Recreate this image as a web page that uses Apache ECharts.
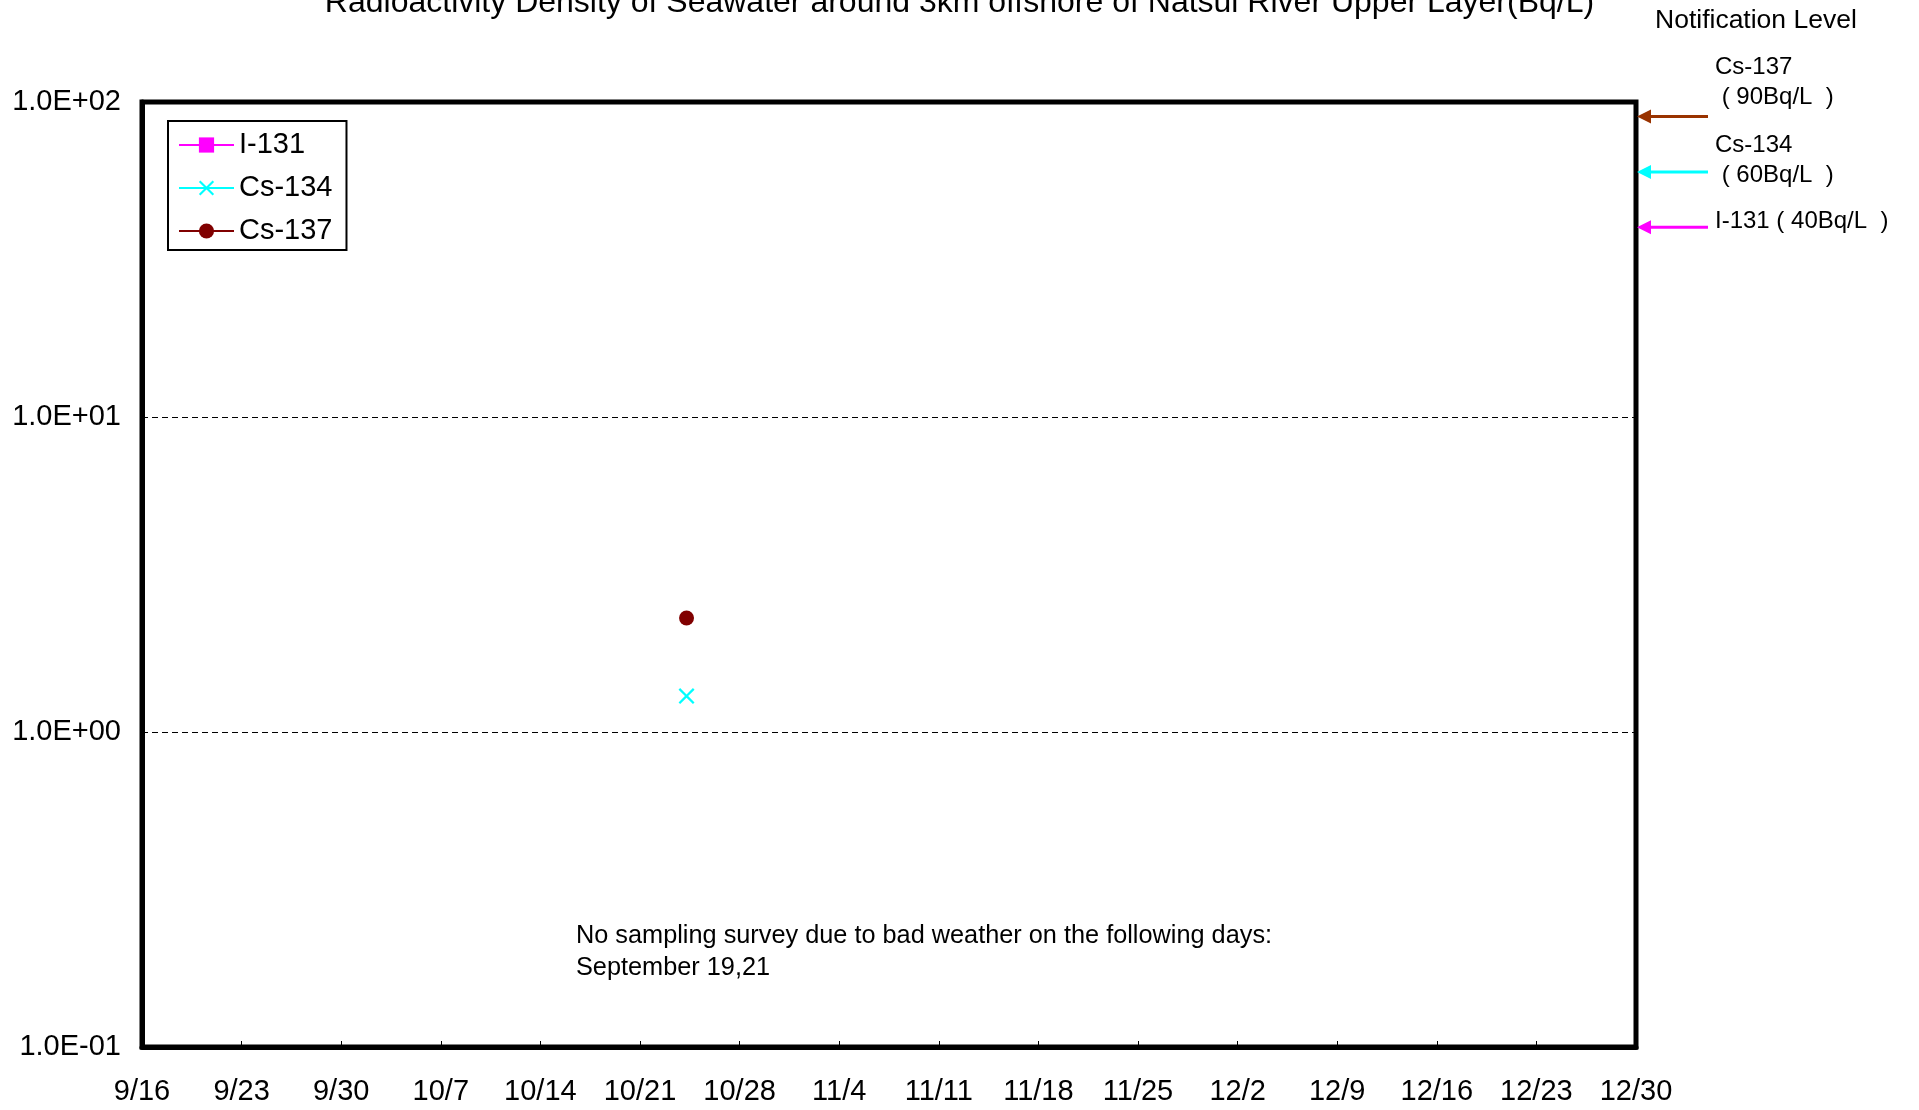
<!DOCTYPE html>
<html>
<head>
<meta charset="utf-8">
<script src="https://cdn.jsdelivr.net/npm/echarts@6/dist/echarts.min.js"></script>
<style>
  html, body { margin: 0; padding: 0; background: #fff; }
  #mychart { width: 1919px; height: 1110px; }
</style>
</head>
<body>
<div id="mychart"></div>
<script>
// sampling data (Bq/L)
const startDate = "2011-09-16T00:00:00Z";
const endDate = "2011-12-30T00:00:00Z";
const sampleDates = ["2011-10-24T06:30:00Z"];
const i131Values = [null];
const cs134Values = [1.3];
const cs137Values = [2.3];

// notification levels (Bq/L)
const levelNames = ["Cs-137", "Cs-134", "I-131"];
const levelValues = [90, 60, 40];
const levelColors = ["#993300", "#00ffff", "#ff00ff"];

const DAY = 86400000;
const FONT = "'Liberation Sans', Arial, sans-serif";

function dayOffset(d) {
  return (Date.parse(d) - Date.parse(startDate)) / DAY;
}

function toSeries(values) {
  return sampleDates.map((d, i) => [dayOffset(d), values[i] == null ? "-" : values[i]]);
}

function sciLabel(v) {
  const e = Math.round(Math.log10(v));
  const m = (v / Math.pow(10, e)).toFixed(1);
  return m + "E" + (e < 0 ? "-" : "+") + String(Math.abs(e)).padStart(2, "0");
}

const crossPath =
  "path://M0,1 L1,0 L5,4 L9,0 L10,1 L6,5 L10,9 L9,10 L5,6 L1,10 L0,9 L4,5 Z";

const getchart = echarts.init(document.getElementById("mychart"));

const option = {
  animation: false,
  textStyle: { fontFamily: FONT },
  title: {
    text: "Radioactivity Density of Seawater around 3km offshore of Natsui River Upper Layer(Bq/L)",
    left: "center",
    top: -18,
    textStyle: { fontFamily: FONT, fontSize: 32, fontWeight: "normal", color: "#000" }
  },
  legend: {
    orient: "vertical",
    left: 168,
    top: 121,
    padding: [8, 14, 3, 10],
    borderColor: "#000",
    borderWidth: 2,
    itemWidth: 55,
    itemHeight: 19,
    itemGap: 11,
    textStyle: { fontFamily: FONT, fontSize: 29, color: "#000", lineHeight: 32 },
    data: ["I-131", "Cs-134", "Cs-137"]
  },
  grid: {
    left: 142,
    top: 102,
    width: 1494,
    height: 945,
    show: true,
    borderColor: "#000",
    borderWidth: 5
  },
  xAxis: {
    type: "value",
    min: 0,
    max: dayOffset(endDate),
    interval: 7,
    axisLine: { show: true, lineStyle: { color: "#000", width: 5 } },
    axisTick: { show: true, inside: true, length: 6, lineStyle: { color: "#000", width: 1 } },
    splitLine: { show: false },
    axisLabel: {
      margin: 30,
      fontFamily: FONT,
      fontSize: 29,
      color: "#000",
      showMinLabel: true,
      showMaxLabel: true,
      formatter: function (v) {
        const d = new Date(Date.parse(startDate) + v * DAY);
        return d.getUTCMonth() + 1 + "/" + d.getUTCDate();
      }
    }
  },
  yAxis: {
    type: "log",
    logBase: 10,
    min: 0.1,
    max: 100,
    interval: 1,
    axisLine: { show: true, lineStyle: { color: "#000", width: 5 } },
    axisTick: { show: false },
    splitLine: { show: true, lineStyle: { color: "#000", width: 1, type: [6, 4] } },
    axisLabel: {
      margin: 21,
      fontFamily: FONT,
      fontSize: 29,
      color: "#000",
      formatter: sciLabel
    }
  },
  series: [
    {
      name: "I-131",
      type: "line",
      data: toSeries(i131Values),
      symbol: "rect",
      symbolSize: 14,
      itemStyle: { color: "#ff00ff" },
      lineStyle: { color: "#ff00ff", width: 2 }
    },
    {
      name: "Cs-134",
      type: "line",
      data: toSeries(cs134Values),
      symbol: crossPath,
      symbolSize: 16,
      itemStyle: { color: "#00ffff" },
      lineStyle: { color: "#00ffff", width: 2 }
    },
    {
      name: "Cs-137",
      type: "line",
      data: toSeries(cs137Values),
      symbol: "circle",
      symbolSize: 15,
      itemStyle: { color: "#800000" },
      lineStyle: { color: "#800000", width: 2 }
    }
  ]
};

getchart.setOption(option);

// notification level texts and arrows (arrows placed through the y axis scale)
const graphics = [
  {
    type: "text",
    left: 1655,
    top: 7,
    style: { text: "Notification Level", font: "26.5px " + FONT, fill: "#000" }
  },
  {
    type: "text",
    left: 1715,
    top: 52,
    style: { text: levelNames[0] + "\n ( 90Bq/L  )", font: "24px " + FONT, fill: "#000", lineHeight: 30 }
  },
  {
    type: "text",
    left: 1715,
    top: 130,
    style: { text: levelNames[1] + "\n ( 60Bq/L  )", font: "24px " + FONT, fill: "#000", lineHeight: 30 }
  },
  {
    type: "text",
    left: 1715,
    top: 209,
    style: { text: levelNames[2] + " ( 40Bq/L  )", font: "24px " + FONT, fill: "#000" }
  },
  {
    type: "text",
    left: 576,
    top: 920,
    style: {
      text: "No sampling survey due to bad weather on the following days:\nSeptember 19,21",
      font: "25.3px " + FONT,
      fill: "#000",
      lineHeight: 32
    }
  }
];

levelValues.forEach((v, i) => {
  const y = getchart.convertToPixel({ yAxisIndex: 0 }, v);
  graphics.push({
    type: "line",
    shape: { x1: 1648, y1: y, x2: 1708, y2: y },
    style: { stroke: levelColors[i], lineWidth: 3 }
  });
  graphics.push({
    type: "polygon",
    shape: { points: [[1637, y], [1651, y - 7], [1651, y + 7]] },
    style: { fill: levelColors[i] }
  });
});

getchart.setOption({ graphic: graphics });

window.addEventListener("resize", () => {
  getchart.resize();
});
</script>
</body>
</html>
